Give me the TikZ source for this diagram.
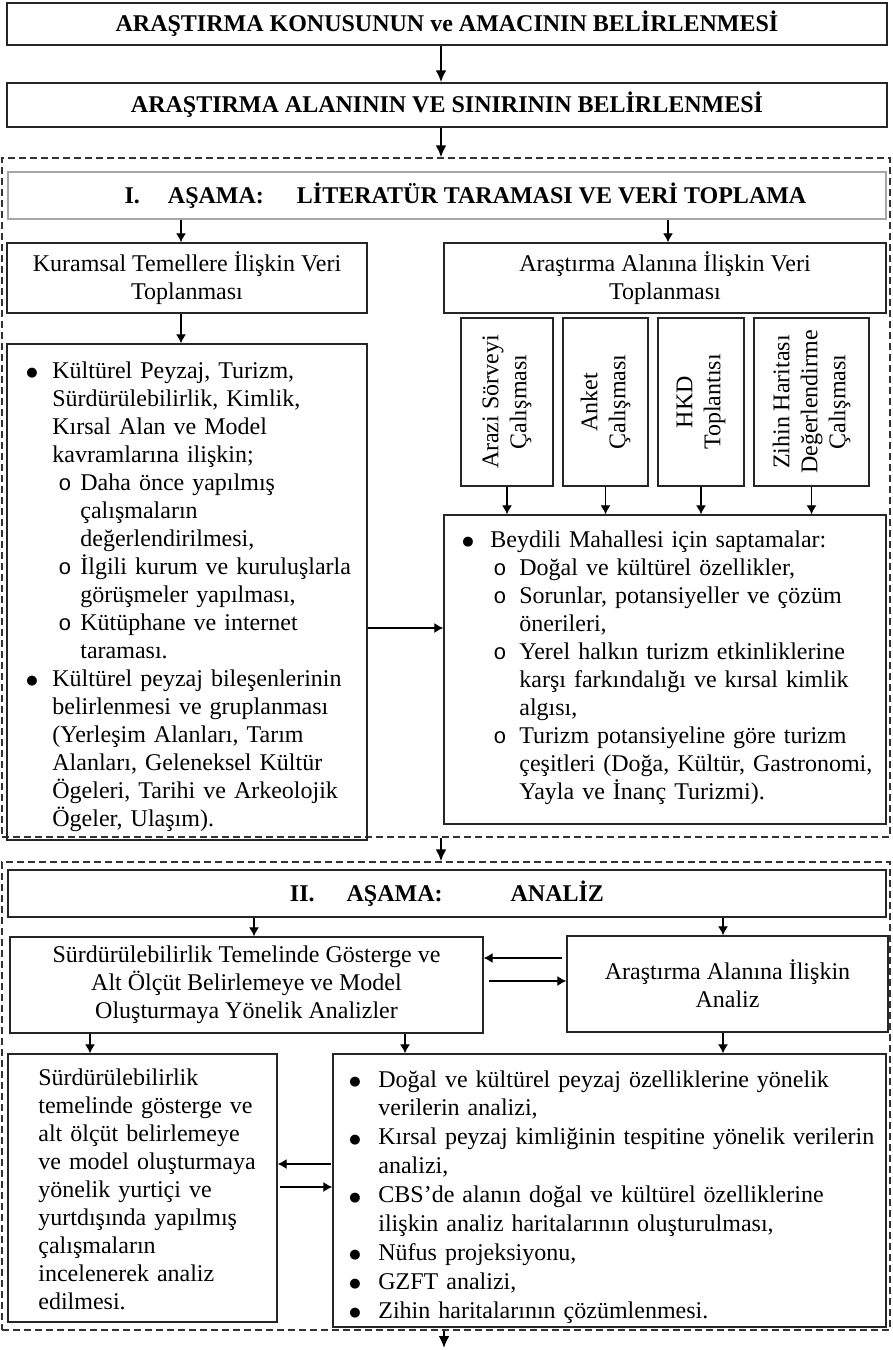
\documentclass[tikz,border=0pt]{standalone}
\usepackage{fontspec}
\setmainfont{Liberation Serif}
\newfontfamily\halkafont{Liberation Mono}
\newfontfamily\isaretfont{DejaVu Sans}
\usetikzlibrary{arrows.meta}
\newcommand\madde[1]{\makebox[#1][l]{\raisebox{0.8pt}{\isaretfont\fontsize{6.5}{14}\selectfont ●}}}
\newcommand\halka[1]{\makebox[#1][l]{\halkafont\fontsize{11}{14}\selectfont o}}

\begin{document}
\begin{tikzpicture}[x=0.5pt,y=-0.5pt,
  kutu/.style={draw=black!85, line width=0.7pt, inner sep=0pt, font=\fontsize{12}{14}\selectfont},
  baslik/.style={kutu, font=\fontsize{12}{14}\selectfont\bfseries},
  kesikli/.style={draw=black!80, line width=0.6pt, dash pattern=on 3.5pt off 2pt, inner sep=0pt},
  yazi/.style={inner sep=0pt, align=left, text width=280pt, font=\fontsize{12}{14}\selectfont},
  ince/.style={-{Latex[length=4.5pt,width=5pt]}, line width=0.6pt},
  kalin/.style={-{Latex[length=6pt,width=5.5pt]}, line width=1.2pt}]

\useasboundingbox (0,0) rectangle (893,1350);

% ust kutular
\node[baslik, minimum width=440pt, minimum height=21pt] (konu) at (447,24) {ARAŞTIRMA KONUSUNUN ve AMACININ BELİRLENMESİ};
\node[baslik, minimum width=440pt, minimum height=22pt] (alan) at (447,105) {ARAŞTIRMA ALANININ VE SINIRININ BELİRLENMESİ};

% I. asama
\node[kesikli, minimum width=444pt, minimum height=339.5pt] (asama1) at (446,497.5) {};
\node[baslik, draw=black!35, minimum width=439pt, minimum height=23.5pt] (baslik1) at (447,195.5) {\hspace*{18.5pt}I.\hspace{14pt}AŞAMA:\hspace{16.5pt}LİTERATÜR TARAMASI VE VERİ TOPLAMA};

\node[kutu, minimum width=180pt, minimum height=35pt, align=center] (kuram) at (187,278) {Kuramsal Temellere İlişkin Veri\\Toplanması};
\node[kutu, minimum width=221pt, minimum height=35pt, align=center] (alanveri) at (665,278) {Araştırma Alanına İlişkin Veri\\Toplanması};

\node[kutu, minimum width=180pt, minimum height=248pt] (kuramliste) at (187,592) {};
\node[yazi, anchor=base west] (kuramyazi) at (26,378) {%
\madde{13pt}Kültürel Peyzaj, Turizm,\\
\hspace*{13pt}Sürdürülebilirlik, Kimlik,\\
\hspace*{13pt}Kırsal Alan ve Model\\
\hspace*{13pt}kavramlarına ilişkin;\\
\hspace*{16pt}\halka{11pt}Daha önce yapılmış\\
\hspace*{27pt}çalışmaların\\
\hspace*{27pt}değerlendirilmesi,\\
\hspace*{16pt}\halka{11pt}İlgili kurum ve kuruluşlarla\\
\hspace*{27pt}görüşmeler yapılması,\\
\hspace*{16pt}\halka{11pt}Kütüphane ve internet\\
\hspace*{27pt}taraması.\\
\madde{13pt}Kültürel peyzaj bileşenlerinin\\
\hspace*{13pt}belirlenmesi ve gruplanması\\
\hspace*{13pt}(Yerleşim Alanları, Tarım\\
\hspace*{13pt}Alanları, Geleneksel Kültür\\
\hspace*{13pt}Ögeleri, Tarihi ve Arkeolojik\\
\hspace*{13pt}Ögeler, Ulaşım).};

\node[kutu, rotate=90, align=center, minimum width=84pt, minimum height=46pt] (arazi) at (507,402) {Arazi Sörveyi\\Çalışması};
\node[kutu, rotate=90, align=center, minimum width=84pt, minimum height=42.5pt] (anket) at (605.5,402) {Anket\\Çalışması};
\node[kutu, rotate=90, align=center, minimum width=84pt, minimum height=43pt] (hkd) at (701,402) {HKD\\Toplantısı};
\node[kutu, rotate=90, align=center, minimum width=84pt, minimum height=57.5pt] (zihin) at (811.5,402) {Zihin Haritası\\Değerlendirme\\Çalışması};

\node[kutu, minimum width=221pt, minimum height=154.5pt] (saptama) at (665,669.5) {};
\node[yazi, anchor=base west] (saptamayazi) at (462,547) {%
\madde{14pt}Beydili Mahallesi için saptamalar:\\
\hspace*{15.5pt}\halka{13pt}Doğal ve kültürel özellikler,\\
\hspace*{15.5pt}\halka{13pt}Sorunlar, potansiyeller ve çözüm\\
\hspace*{28.5pt}önerileri,\\
\hspace*{15.5pt}\halka{13pt}Yerel halkın turizm etkinliklerine\\
\hspace*{28.5pt}karşı farkındalığı ve kırsal kimlik\\
\hspace*{28.5pt}algısı,\\
\hspace*{15.5pt}\halka{13pt}Turizm potansiyeline göre turizm\\
\hspace*{28.5pt}çeşitleri (Doğa, Kültür, Gastronomi,\\
\hspace*{28.5pt}Yayla ve İnanç Turizmi).};

% II. asama
\node[kesikli, minimum width=444pt, minimum height=234pt] (asama2) at (446,1096) {};
\node[baslik, minimum width=439pt, minimum height=23.5pt] (baslik2) at (447,893.5) {II.\hspace{16pt}AŞAMA:\hspace{34pt}ANALİZ};

\node[kutu, minimum width=236.5pt, minimum height=48pt, align=center] (model) at (246.5,985) {Sürdürülebilirlik Temelinde Gösterge ve\\Alt Ölçüt Belirlemeye ve Model\\Oluşturmaya Yönelik Analizler};
\node[kutu, minimum width=160.5pt, minimum height=48pt, align=center] (alananaliz) at (727.5,984) {Araştırma Alanına İlişkin\\Analiz};

\node[kutu, minimum width=134.5pt, minimum height=134pt] (literatur) at (142.5,1188) {};
\node[yazi, anchor=base west] (literaturyazi) at (38,1085) {%
Sürdürülebilirlik\\
temelinde gösterge ve\\
alt ölçüt belirlemeye\\
ve model oluşturmaya\\
yönelik yurtiçi ve\\
yurtdışında yapılmış\\
çalışmaların\\
incelenerek analiz\\
edilmesi.};

\node[kutu, minimum width=276.5pt, minimum height=136.5pt] (analizliste) at (609.5,1190.5) {};
\node[yazi, anchor=base west, font=\fontsize{12}{14.45}\selectfont] (analizyazi) at (349,1087) {%
\madde{14.5pt}Doğal ve kültürel peyzaj özelliklerine yönelik\\
\hspace*{14.5pt}verilerin analizi,\\
\madde{14.5pt}Kırsal peyzaj kimliğinin tespitine yönelik verilerin\\
\hspace*{14.5pt}analizi,\\
\madde{14.5pt}CBS’de alanın doğal ve kültürel özelliklerine\\
\hspace*{14.5pt}ilişkin analiz haritalarının oluşturulması,\\
\madde{14.5pt}Nüfus projeksiyonu,\\
\madde{14.5pt}GZFT analizi,\\
\madde{14.5pt}Zihin haritalarının çözümlenmesi.};

\coordinate (son) at (444,1348);

% oklar
\draw[kalin] ([xshift=-3pt]konu.south) -- ([xshift=-3pt]alan.north);
\draw[kalin] ([xshift=-3pt]alan.south) -- ([xshift=-2.5pt]asama1.north);
\draw[ince] ([xshift=-3pt]kuram.north |- baslik1.south) -- ([xshift=-3pt]kuram.north);
\draw[ince] ([xshift=1.5pt]alanveri.north |- baslik1.south) -- ([xshift=1.5pt]alanveri.north);
\draw[ince] ([xshift=-3pt]kuram.south) -- ([xshift=-3pt]kuramliste.north);
\foreach \k in {arazi,anket,hkd,zihin}
  \draw[ince] (\k.west) -- (\k.west |- saptama.north);
\draw[ince] ([yshift=-18pt]kuramliste.east) -- ([yshift=-18pt]kuramliste.east -| saptama.west);

\draw[kalin] ([xshift=-2.5pt]asama1.south) -- ([xshift=-2.5pt]asama2.north);
\draw[ince] ([xshift=3.75pt]model.north |- baslik2.south) -- ([xshift=3.75pt]model.north);
\draw[ince] ([xshift=-2.25pt]alananaliz.north |- baslik2.south) -- ([xshift=-2.25pt]alananaliz.north);
\draw[ince, shorten <=2pt] ([yshift=13pt]alananaliz.west) -- ([yshift=13pt]alananaliz.west -| model.east);
\draw[ince, shorten <=2.5pt] ([yshift=2pt]model.east) -- ([yshift=2pt]model.east -| alananaliz.west);
\draw[ince] ([xshift=-26.25pt]literatur.north |- model.south) -- ([xshift=-26.25pt]literatur.north);
\draw[ince] ([xshift=-102.25pt]analizliste.north |- model.south) -- ([xshift=-102.25pt]analizliste.north);
\draw[ince] ([xshift=-2.25pt]alananaliz.south) -- ([xshift=-2.25pt]alananaliz.south |- analizliste.north);
\draw[ince, shorten <=0.5pt] ([yshift=12pt]literatur.east -| analizliste.west) -- ([yshift=12pt]literatur.east);
\draw[ince, shorten <=1pt] ([yshift=0.5pt]literatur.east) -- ([yshift=0.5pt]literatur.east -| analizliste.west);
\draw[kalin] ([xshift=-1pt]asama2.south) -- (son);
\end{tikzpicture}
\end{document}
